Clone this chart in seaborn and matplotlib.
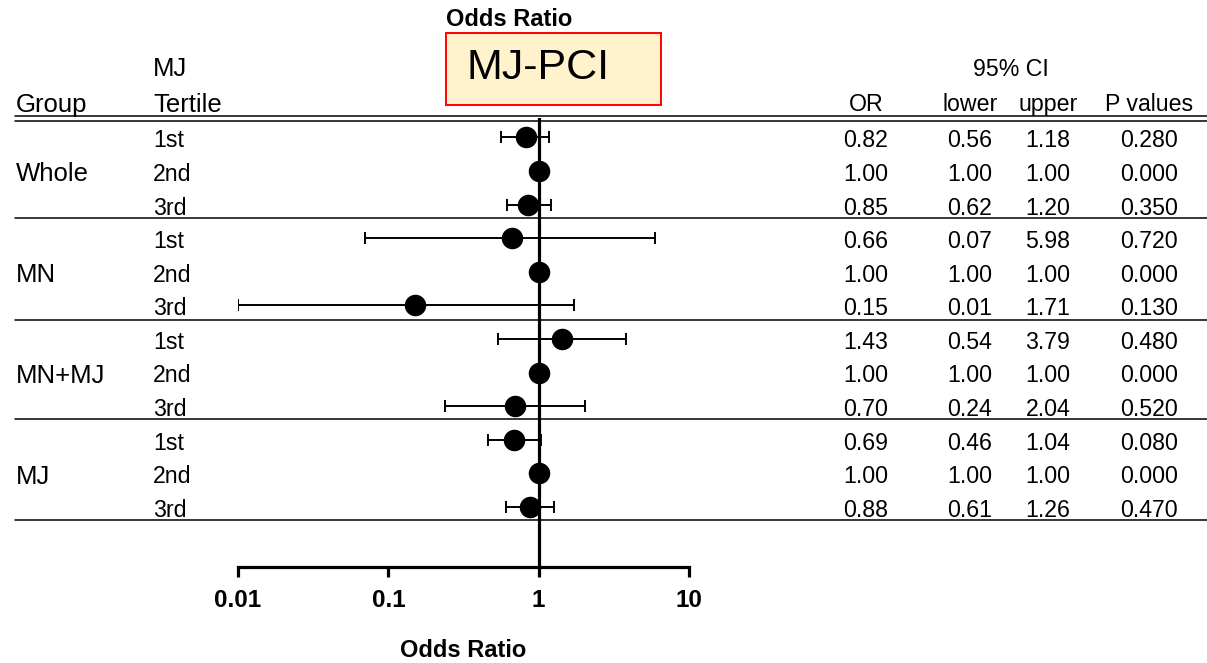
import numpy as np
import pandas as pd
import matplotlib
matplotlib.use("Agg")
import matplotlib.pyplot as plt
from matplotlib.patches import Rectangle
import seaborn as sns

# ---------------- data ----------------
groups = ["Whole", "MN", "MN+MJ", "MJ"]
tertiles = ["1st", "2nd", "3rd"]
odds_ratio = [0.82, 1.00, 0.85, 0.66, 1.00, 0.15, 1.43, 1.00, 0.70, 0.69, 1.00, 0.88]
ci_lower = [0.56, 1.00, 0.62, 0.07, 1.00, 0.01, 0.54, 1.00, 0.24, 0.46, 1.00, 0.61]
ci_upper = [1.18, 1.00, 1.20, 5.98, 1.00, 1.71, 3.79, 1.00, 2.04, 1.04, 1.00, 1.26]
p_values = [0.280, 0.000, 0.350, 0.720, 0.000, 0.130, 0.480, 0.000, 0.520, 0.080, 0.000, 0.470]
x_ticks = [0.01, 0.1, 1, 10]
x_tick_labels = ["0.01", "0.1", "1", "10"]
title_text = "MJ-PCI"
axis_title = "Odds Ratio"

df = pd.DataFrame({
    "group": np.repeat(groups, 3),
    "tertile": tertiles * len(groups),
    "OR": odds_ratio,
    "lower": ci_lower,
    "upper": ci_upper,
    "p": p_values,
})
df["row"] = np.arange(len(df))

# ---------------- style ----------------
sns.set_style("white")
plt.rcParams["font.family"] = ["Liberation Sans", "DejaVu Sans"]
plt.rcParams["text.color"] = "black"
plt.rcParams["xtick.color"] = "black"
plt.rcParams["axes.labelcolor"] = "black"

W, H = 1207, 663
fig = plt.figure(figsize=(W / 100, H / 100), dpi=100)

# vertical mapping (rows -> pixels)
r_top, r_bot = -0.58, 12.79
px_top, px_bot = 118, 567
ax_bottom = 1 - px_bot / H
ax_height = (px_bot - px_top) / H

# overlay table axes spanning the full width (x in pixel units, y in row units)
tab = fig.add_axes([0, ax_bottom, 1, ax_height])
tab.set_xlim(0, W)
tab.set_ylim(r_bot, r_top)
tab.axis("off")

# forest axes
ax = fig.add_axes([238 / W, ax_bottom, 451 / W, ax_height])
ax.patch.set_alpha(0)
ax.set_xscale("log")
ax.set_xlim(0.01, 10)
ax.set_ylim(r_bot, r_top)

# horizontal rules
line_kw = dict(color="black", lw=1.1, clip_on=False)
for yy in [-0.64, -0.49]:
    tab.plot([15, W], [yy, yy], **line_kw)
for yy in [2.40, 5.43, 8.38, 11.39]:
    tab.plot([15, W], [yy, yy], **line_kw)

# reference line at OR = 1
ax.axvline(1, color="black", lw=2.3, zorder=2)

# error bars and points
err = np.vstack([df["OR"] - df["lower"], df["upper"] - df["OR"]])
ax.errorbar(df["OR"], df["row"], xerr=err, fmt="none", ecolor="black",
            elinewidth=1.4, capsize=4.3, capthick=1.4, zorder=3)
sns.scatterplot(data=df, x="OR", y="row", ax=ax, color="black", s=240,
                edgecolor="black", linewidth=0, zorder=4, legend=False)

ax.set_ylim(r_bot, r_top)
ax.set_yticks([])
ax.set_ylabel("")
for s in ["top", "left", "right"]:
    ax.spines[s].set_visible(False)
ax.spines["bottom"].set_linewidth(2.3)
ax.spines["bottom"].set_color("black")
ax.set_xticks(x_ticks)
ax.set_xticklabels(x_tick_labels, fontsize=17.5, fontweight="bold", color="black")
ax.xaxis.set_minor_locator(matplotlib.ticker.NullLocator())
ax.tick_params(axis="x", direction="out", length=7, width=2.3, pad=9,
               bottom=True, color="black", labelcolor="black")
ax.set_xlabel(axis_title, fontsize=17, fontweight="bold", labelpad=19, color="black")

# ---------------- table text ----------------
dy = 0.1
big = 18.5
small = 16.7
for i, g in enumerate(groups):
    tab.text(16, 3 * i + 1 + dy, g, fontsize=big, va="center", ha="left")
for _, r in df.iterrows():
    y = r["row"] + dy
    tab.text(153, y, r["tertile"], fontsize=small, va="center", ha="left")
    tab.text(866, y, f"{r['OR']:.2f}", fontsize=small, va="center", ha="center")
    tab.text(970, y, f"{r['lower']:.2f}", fontsize=small, va="center", ha="center")
    tab.text(1048, y, f"{r['upper']:.2f}", fontsize=small, va="center", ha="center")
    tab.text(1149, y, f"{r['p']:.3f}", fontsize=small, va="center", ha="center")

hdr_y = -0.97
tab.text(16, hdr_y, "Group", fontsize=big, va="center", ha="left")
tab.text(153, hdr_y, "Tertile", fontsize=big, va="center", ha="left")
tab.text(153, -2.03, "MJ", fontsize=big, va="center", ha="left")
tab.text(866, hdr_y, "OR", fontsize=small, va="center", ha="center")
tab.text(970, hdr_y, "lower", fontsize=small, va="center", ha="center")
tab.text(1048, hdr_y, "upper", fontsize=small, va="center", ha="center")
tab.text(1149, hdr_y, "P values", fontsize=small, va="center", ha="center")
tab.text(1011, -2.03, "95% CI", fontsize=small, va="center", ha="center")

# top title and box
tab.text(509, -3.5, axis_title, fontsize=17, fontweight="bold", va="center", ha="center")
tab.add_patch(Rectangle((446, -0.97), 215, -2.14, facecolor="#FFF2CC",
                        edgecolor="#FF0000", lw=1.4, clip_on=False, zorder=1))
tab.text(467, -2.07, title_text, fontsize=31, va="center", ha="left", zorder=2)

fig.savefig("out.png", dpi=100)
